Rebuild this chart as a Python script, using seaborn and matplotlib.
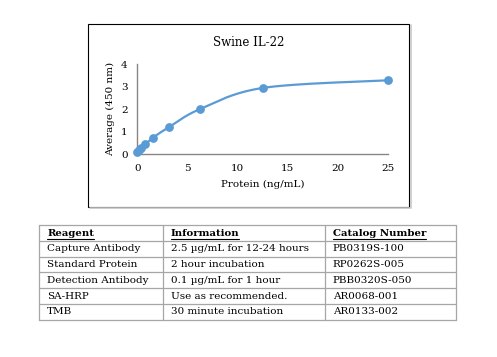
import numpy as np
import pandas as pd
import matplotlib
matplotlib.use("Agg")
import matplotlib.pyplot as plt
from matplotlib.patches import Rectangle
from matplotlib.lines import Line2D
import seaborn as sns

# standard curve values
conc = [0, 0.195, 0.39, 0.78, 1.5625, 3.125, 6.25, 12.5, 25]
od = [0.10, 0.18, 0.28, 0.44, 0.74, 1.20, 2.01, 2.95, 3.29]

# table underneath
headers = ["Reagent", "Information", "Catalog Number"]
reagents = ["Capture Antibody", "Standard Protein", "Detection Antibody", "SA-HRP", "TMB"]
info = ["2.5 \u00b5g/mL for 12-24 hours", "2 hour incubation", "0.1 \u00b5g/mL for 1 hour",
        "Use as recommended.", "30 minute incubation"]
catalog = ["PB0319S-100", "RP0262S-005", "PBB0320S-050", "AR0068-001", "AR0133-002"]

sns.set_style("white")
plt.rcParams["font.family"] = ["DejaVu Serif", "Liberation Serif"]
plt.rcParams["text.color"] = "black"
plt.rcParams["axes.labelcolor"] = "black"

W, H = 497, 357
fig = plt.figure(figsize=(W / 100, H / 100), dpi=100)

def fx(px):
    return px / W

def fy(py):
    return 1 - py / H

# chart frame with a little shadow on the right and bottom
fig.add_artist(Line2D([fx(90), fx(410.5), fx(410.5)], [fy(208), fy(208), fy(25)],
                      color="#c8c8c8", lw=1.2))
fig.add_artist(Rectangle((fx(88), fy(206.5)), fx(321), fy(0) - fy(183),
                         transform=fig.transFigure, fill=False, ec="black", lw=0.8))

ax = fig.add_axes([fx(137.3), fy(154.3), fx(388.3) - fx(137.3), fy(64.3) - fy(154.3)])
ax.set_facecolor("none")

# smooth line through the points, like Excel's smoothed line (Catmull-Rom in display scale)
sx, sy = 10.04, 22.5
P = np.column_stack([np.array(conc) * sx, np.array(od) * sy])
pts = []
for i in range(len(P) - 1):
    p0 = P[i - 1] if i > 0 else P[i]
    p1, p2 = P[i], P[i + 1]
    p3 = P[i + 2] if i + 2 < len(P) else P[i + 1]
    c1 = p1 + (p2 - p0) / 6
    c2 = p2 - (p3 - p1) / 6
    t = np.linspace(0, 1, 30)[:, None]
    seg = (1 - t) ** 3 * p1 + 3 * (1 - t) ** 2 * t * c1 + 3 * (1 - t) * t ** 2 * c2 + t ** 3 * p2
    pts.append(seg if i == 0 else seg[1:])
curve = np.vstack(pts)
curve_df = pd.DataFrame({"x": curve[:, 0] / sx, "y": curve[:, 1] / sy})
df = pd.DataFrame({"conc": conc, "od": od})

blue = "#5b9bd5"
sns.lineplot(data=curve_df, x="x", y="y", ax=ax, color=blue, lw=1.6, sort=False)
sns.scatterplot(data=df, x="conc", y="od", ax=ax, color=blue, s=40, edgecolor=blue,
                linewidth=0, zorder=3, clip_on=False)

ax.set_xlim(0, 25)
ax.set_ylim(0, 4)
ax.set_xticks([0, 5, 10, 15, 20, 25])
ax.set_yticks([0, 1, 2, 3, 4])
for s in ["top", "right"]:
    ax.spines[s].set_visible(False)
for s in ["left", "bottom"]:
    ax.spines[s].set_color("#868686")
    ax.spines[s].set_linewidth(1.0)
ax.tick_params(axis="both", length=0, labelsize=7.5, pad=7, colors="black")
ax.set_xlabel("Protein (ng/mL)", fontsize=7.5, labelpad=5)
ax.set_ylabel("Average (450 nm)", fontsize=7.5, labelpad=4)
# title centred over the whole chart box
fig.text(fx(248.5), fy(42), "Swine IL-22", fontsize=8.5, ha="center", va="center")

# table
left, right = 39.3, 456
col_x = [39.3, 162.7, 324.7]
row_y = [225, 241, 256.7, 272.3, 288.3, 304, 320]
gray = "#a6a6a6"
for yy in row_y:
    fig.add_artist(Line2D([fx(left), fx(right)], [fy(yy), fy(yy)], color=gray, lw=0.9))
for xx in col_x + [right]:
    fig.add_artist(Line2D([fx(xx), fx(xx)], [fy(row_y[0]), fy(row_y[-1])], color=gray, lw=0.9))

rows = [headers] + [list(r) for r in zip(reagents, info, catalog)]
head_txt = []
for r, row in enumerate(rows):
    yc = (row_y[r] + row_y[r + 1]) / 2
    for c, txt in enumerate(row):
        t = fig.text(fx(col_x[c] + 8), fy(yc), txt, fontsize=7.5 if r else 7.3,
                     va="center", ha="left", fontweight="bold" if r == 0 else "normal")
        if r == 0:
            head_txt.append((t, yc))

# underline header text
fig.canvas.draw()
for t, yc in head_txt:
    bb = t.get_window_extent()
    fig.add_artist(Line2D([fx(bb.x0), fx(bb.x1)], [fy(yc + 6), fy(yc + 6)],
                          color="black", lw=0.8))

fig.savefig("out.png", dpi=100)
